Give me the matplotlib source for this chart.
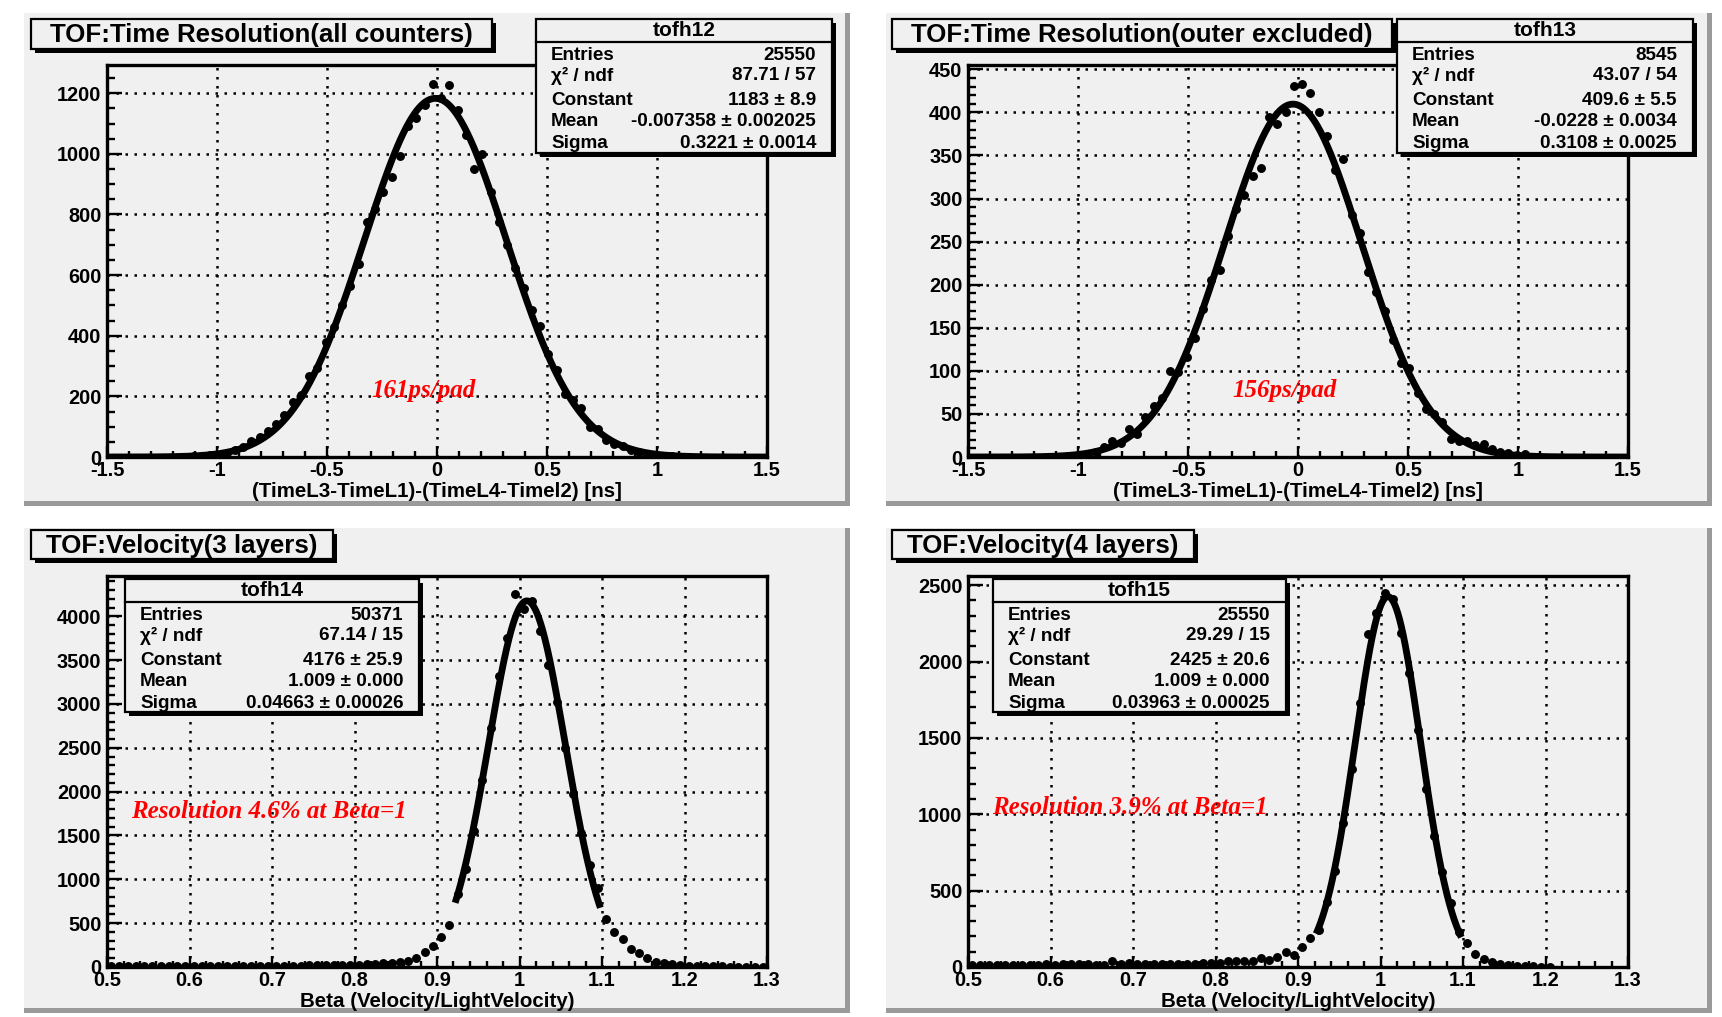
import numpy as np
import matplotlib
matplotlib.use("Agg")
import matplotlib.pyplot as plt
from matplotlib.patches import Rectangle
from matplotlib.lines import Line2D
import matplotlib.ticker as mticker

plt.rcParams['axes.unicode_minus'] = False
plt.rcParams['font.family'] = ['Liberation Sans', 'DejaVu Sans']

# ---------------- data ----------------
# top panels: bin width 0.0375 ns
tl_x = [-1.14375, -1.10625, -1.06875, -1.03125, -0.99375, -0.95625, -0.91875, -0.88125,
        -0.84375, -0.80625, -0.76875, -0.73125, -0.69375, -0.65625, -0.61875, -0.58125,
        -0.54375, -0.50625, -0.46875, -0.43125, -0.39375, -0.35625, -0.31875, -0.28125,
        -0.24375, -0.20625, -0.16875, -0.13125, -0.09375, -0.05625, -0.01875, 0.01875,
        0.05625, 0.09375, 0.13125, 0.16875, 0.20625, 0.24375, 0.28125, 0.31875,
        0.35625, 0.39375, 0.43125, 0.46875, 0.50625, 0.54375, 0.58125, 0.61875,
        0.65625, 0.69375, 0.73125, 0.76875, 0.80625, 0.84375, 0.88125, 0.91875,
        0.95625, 0.99375, 1.03125, 1.06875, 1.10625]
tl_y = [1, 2, 3, 5, 8, 13, 22, 33,
        52, 66, 86, 110, 140, 182, 206, 266,
        292, 380, 429, 501, 564, 636, 774, 818,
        875, 925, 993, 1093, 1117, 1160, 1231, 1185,
        1226, 1143, 1062, 949, 999, 875, 774, 699,
        625, 556, 484, 433, 341, 288, 209, 187,
        160, 99, 94, 55, 44, 35, 24, 16,
        10, 7, 4, 2, 1]

tr_x = [-1.03125, -0.99375, -0.95625, -0.91875, -0.88125, -0.84375, -0.80625, -0.76875,
        -0.73125, -0.69375, -0.65625, -0.61875, -0.58125, -0.54375, -0.50625, -0.46875,
        -0.43125, -0.39375, -0.35625, -0.31875, -0.28125, -0.24375, -0.20625, -0.16875,
        -0.13125, -0.09375, -0.05625, -0.01875, 0.01875, 0.05625, 0.09375, 0.13125,
        0.16875, 0.20625, 0.24375, 0.28125, 0.31875, 0.35625, 0.39375, 0.43125,
        0.46875, 0.50625, 0.54375, 0.58125, 0.61875, 0.65625, 0.69375, 0.73125,
        0.76875, 0.80625, 0.84375, 0.88125, 0.91875, 0.95625, 0.99375, 1.03125]
tr_y = [1, 2, 4, 6, 12, 19, 16, 32,
        27, 47, 59, 68, 100, 99, 116, 138,
        172, 205, 217, 257, 288, 304, 326, 335,
        395, 386, 401, 431, 433, 422, 400, 373,
        333, 346, 281, 260, 215, 192, 169, 136,
        109, 103, 74, 56, 50, 41, 21, 19,
        18, 14, 15, 9, 6, 5, 2, 4]

# bottom panels: bin width 0.01
bl_x = [round(0.505 + 0.01 * i, 3) for i in range(80)]
bl_y = [12, 10, 9, 10, 8, 10, 9, 11, 10, 12,
        11, 12, 10, 13, 12, 13, 12, 14, 13, 15,
        14, 15, 16, 17, 18, 19, 20, 22, 23, 25,
        28, 31, 36, 44, 44, 52, 70, 108, 166, 242,
        344, 477, 830, 1114, 1551, 2132, 2728, 3316, 3752, 4258,
        4083, 4170, 3837, 3449, 3020, 2500, 1969, 1532, 1160, 900,
        552, 400, 324, 203, 154, 101, 52, 40, 30, 22,
        15, 12, 10, 8, 6, 5, 4, 4, 3, 3]

br_x = [round(0.505 + 0.01 * i, 3) for i in range(71)]
br_y = [15, 12, 14, 10, 13, 16, 14, 15, 12, 18,
        15, 20, 17, 19, 18, 16, 14, 39, 22, 25,
        20, 18, 19, 20, 19, 21, 20, 22, 25, 24,
        28, 37, 37, 37, 37, 59, 43, 65, 98, 80,
        130, 189, 239, 424, 630, 941, 1298, 1728, 2180, 2315,
        2446, 2407, 2185, 1924, 1554, 1163, 859, 624, 416, 230,
        155, 88, 55, 33, 22, 15, 8, 5, 4, 3, 2]

# fit parameters (Constant, Mean, Sigma) and fit range
fit_tl = (1183, -0.007358, 0.3221, -1.5, 1.5)
fit_tr = (409.6, -0.0228, 0.3108, -1.5, 1.5)
fit_bl = (4176, 1.009, 0.04663, 0.922, 1.098)
fit_br = (2425, 1.009, 0.03963, 0.922, 1.098)

titles = ["TOF:Time Resolution(all counters)", "TOF:Time Resolution(outer excluded)",
          "TOF:Velocity(3 layers)", "TOF:Velocity(4 layers)"]
xlabels = ["(TimeL3-TimeL1)-(TimeL4-Timel2) [ns]", "(TimeL3-TimeL1)-(TimeL4-Timel2) [ns]",
           "Beta (Velocity/LightVelocity)", "Beta (Velocity/LightVelocity)"]
notes = ["161ps/pad", "156ps/pad", "Resolution 4.6% at Beta=1", "Resolution 3.9% at Beta=1"]
stat_names = ["tofh12", "tofh13", "tofh14", "tofh15"]
stat_rows = [
    [("Entries", "25550"), ("\u03c7\u00b2 / ndf", "87.71 / 57"), ("Constant", "1183 \u00b1 8.9"),
     ("Mean", "-0.007358 \u00b1 0.002025"), ("Sigma", "0.3221 \u00b1 0.0014")],
    [("Entries", "8545"), ("\u03c7\u00b2 / ndf", "43.07 / 54"), ("Constant", "409.6 \u00b1 5.5"),
     ("Mean", "-0.0228 \u00b1 0.0034"), ("Sigma", "0.3108 \u00b1 0.0025")],
    [("Entries", "50371"), ("\u03c7\u00b2 / ndf", "67.14 / 15"), ("Constant", "4176 \u00b1 25.9"),
     ("Mean", "1.009 \u00b1 0.000"), ("Sigma", "0.04663 \u00b1 0.00026")],
    [("Entries", "25550"), ("\u03c7\u00b2 / ndf", "29.29 / 15"), ("Constant", "2425 \u00b1 20.6"),
     ("Mean", "1.009 \u00b1 0.000"), ("Sigma", "0.03963 \u00b1 0.00025")],
]

# ---------------- layout (pixels) ----------------
W, H = 1722, 1017
DPI = 100
fig = plt.figure(figsize=(W / DPI, H / DPI), dpi=DPI)
fig.patch.set_facecolor('white')
PADC = '#f0f0f0'


def fx(x):
    return x / W


def fy(y):
    return 1 - y / H


def rect_px(x0, y0, x1, y1, **kw):
    r = Rectangle((fx(x0), fy(y1)), (x1 - x0) / W, (y1 - y0) / H,
                  transform=fig.transFigure, **kw)
    fig.add_artist(r)
    return r


def line_px(x0, y0, x1, y1, **kw):
    fig.add_artist(Line2D([fx(x0), fx(x1)], [fy(y0), fy(y1)], transform=fig.transFigure, **kw))


pads = [(24, 13, 850, 506), (886, 13, 1712, 506), (24, 528, 850, 1013), (886, 528, 1712, 1013)]
axes_px = [(107, 65, 767, 457), (968, 65, 1628, 457), (107, 576, 767, 967), (968, 576, 1628, 967)]
title_px = [(31, 19, 492, 49), (892, 19, 1392, 49), (31, 530, 333, 559), (892, 530, 1194, 559)]
stats_px = [(536, 19, 832, 153), (1397, 19, 1693, 153), (125, 579, 419, 712), (993, 579, 1286, 712)]
note_px = [(371, 390), (1232, 390), (131, 811), (992, 808)]
ylims = [1293, 455, 4460, 2560]
xlims = [(-1.5, 1.5), (-1.5, 1.5), (0.5, 1.3), (0.5, 1.3)]
xmaj = [0.5, 0.5, 0.1, 0.1]
xmin_ = [0.1, 0.1, 0.02, 0.02]
ymaj = [200, 50, 500, 500]
ymin_ = [50, 10, 100, 100]
datasets = [(tl_x, tl_y, fit_tl), (tr_x, tr_y, fit_tr), (bl_x, bl_y, fit_bl), (br_x, br_y, fit_br)]

for i in range(4):
    px0, py0, px1, py1 = pads[i]
    rect_px(px0, py0, px1, py1, facecolor='#9a9a9a', edgecolor='none', zorder=0)
    rect_px(px0, py0, px1 - 5, py1 - 5, facecolor=PADC, edgecolor='none', zorder=0)

    ax0, ay0, ax1, ay1 = axes_px[i]
    ax = fig.add_axes([fx(ax0), fy(ay1), (ax1 - ax0) / W, (ay1 - ay0) / H])
    ax.set_facecolor(PADC)
    xs, ys, (c, m, s, f0, f1) = datasets[i]
    ax.plot(xs, ys, 'o', color='black', ms=5.4, zorder=3)
    xc = np.linspace(f0, f1, 600)
    ax.plot(xc, c * np.exp(-0.5 * ((xc - m) / s) ** 2), color='black', lw=4.9,
            solid_capstyle='butt', zorder=4)
    ax.set_xlim(*xlims[i])
    ax.set_ylim(0, ylims[i])
    ax.xaxis.set_major_locator(mticker.MultipleLocator(xmaj[i]))
    ax.xaxis.set_minor_locator(mticker.MultipleLocator(xmin_[i]))
    ax.yaxis.set_major_locator(mticker.MultipleLocator(ymaj[i]))
    ax.yaxis.set_minor_locator(mticker.MultipleLocator(ymin_[i]))
    ax.xaxis.set_major_formatter(mticker.FormatStrFormatter('%g'))
    ax.yaxis.set_major_formatter(mticker.FormatStrFormatter('%g'))
    ax.grid(True, which='major', color='black', linestyle=(0, (1, 2.6)), lw=1.8, zorder=1)
    for sp in ax.spines.values():
        sp.set_linewidth(2.4)
    ax.yaxis.set_tick_params(which='major', direction='in', length=11, width=1.7, pad=4)
    ax.yaxis.set_tick_params(which='minor', direction='in', length=6, width=1.7)
    ax.xaxis.set_tick_params(which='major', direction='in', length=8, width=1.7, pad=3)
    ax.xaxis.set_tick_params(which='minor', direction='in', length=4.5, width=1.7)
    for lab in ax.get_xticklabels() + ax.get_yticklabels():
        lab.set_fontsize(14.4)
        lab.set_fontweight('bold')
    ax.set_xlabel(xlabels[i], fontsize=14.8, fontweight='bold', labelpad=1)

    # title box
    tx0, ty0, tx1, ty1 = title_px[i]
    rect_px(tx0 + 4, ty0 + 4, tx1 + 4, ty1 + 4, facecolor='black', edgecolor='none', zorder=5)
    rect_px(tx0, ty0, tx1, ty1, facecolor=PADC, edgecolor='black', lw=1.6, zorder=6)
    fig.text(fx((tx0 + tx1) / 2), fy((ty0 + ty1) / 2 + 1), titles[i], ha='center', va='center',
             fontsize=18.6, fontweight='bold', zorder=7)

    # stats box
    sx0, sy0, sx1, sy1 = stats_px[i]
    rect_px(sx0 + 4, sy0 + 4, sx1 + 4, sy1 + 4, facecolor='black', edgecolor='none', zorder=5)
    rect_px(sx0, sy0, sx1, sy1, facecolor=PADC, edgecolor='black', lw=1.6, zorder=6)
    line_px(sx0, sy0 + 23, sx1, sy0 + 23, color='black', lw=1.6, zorder=7)
    fig.text(fx((sx0 + sx1) / 2), fy(sy0 + 11.5), stat_names[i], ha='center', va='center',
             fontsize=15, fontweight='bold', zorder=7)
    offs = [36, 57, 81.5, 103, 125]
    for (lab, val), o in zip(stat_rows[i], offs):
        fig.text(fx(sx0 + 15), fy(sy0 + o), lab, ha='left', va='center', fontsize=13.6,
                 fontweight='bold', zorder=7)
        fig.text(fx(sx1 - 16), fy(sy0 + o), val, ha='right', va='center', fontsize=13.6,
                 fontweight='bold', zorder=7)

    # red annotation
    nx, ny = note_px[i]
    fig.text(fx(nx), fy(ny), notes[i], ha='left', va='center', color='red', fontsize=18,
             fontfamily='Liberation Serif', fontweight='bold', fontstyle='italic', zorder=8)

fig.savefig('out.png', dpi=DPI, facecolor='white')
